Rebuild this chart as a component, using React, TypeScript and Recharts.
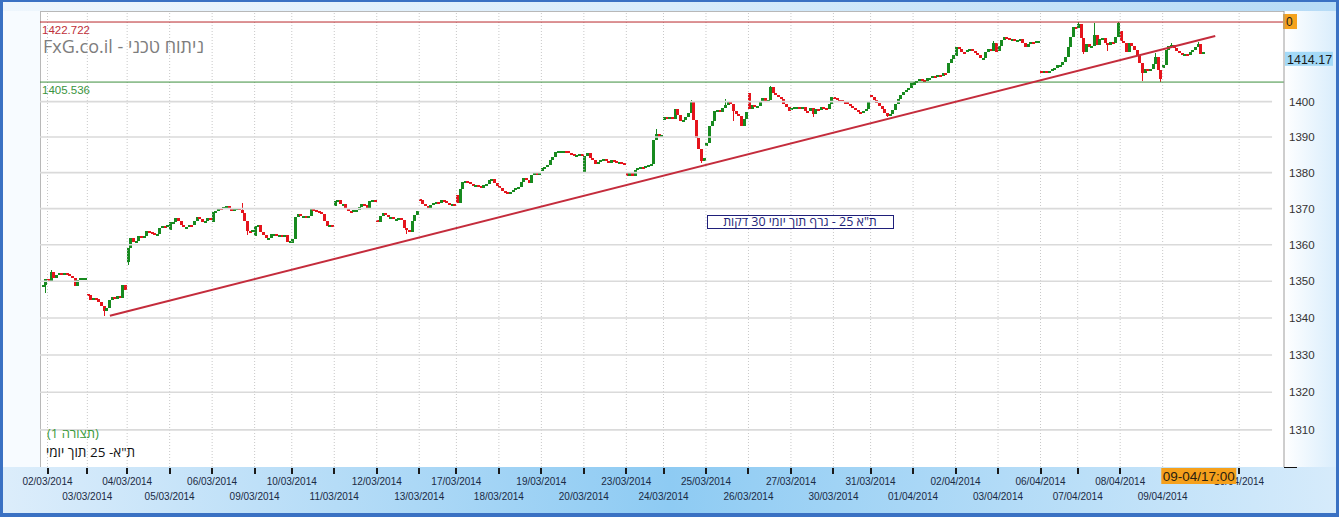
import React from 'react';
import { ComposedChart, Bar, XAxis, YAxis, ReferenceLine } from 'recharts';

// ---------------- DATA ----------------
// Each session: first value = session open, following values = 30-min bar closes
const s2702 = [1348.5, 1349.0, 1350.5];
const s0203 = [1350.5, 1350.2, 1352.5, 1350.8, 1351.8, 1352.2, 1352.0, 1352.3, 1352.0, 1351.5, 1351.0, 1348.7, 1350.3, 1350.8, 1350.8, 1350.9];
const s0303 = [1346.5, 1346.2, 1344.8, 1345.5, 1345.3, 1344.3, 1343.2, 1342.0, 1342.8, 1344.8, 1345.6, 1345.2, 1346.0, 1345.5, 1348.9, 1347.5];
const s0403 = [1355.2, 1359.2, 1361.8, 1360.8, 1361.0, 1362.5, 1362.0, 1362.3, 1363.8, 1363.4, 1363.2, 1363.0, 1363.1, 1364.5, 1365.2, 1365.0, 1365.5];
const s0503 = [1364.0, 1366.2, 1366.4, 1367.3, 1366.5, 1365.4, 1364.9, 1365.0, 1365.6, 1365.5, 1366.6, 1367.7, 1367.2, 1366.2, 1366.6, 1367.4, 1367.0];
const s0603 = [1366.3, 1369.0, 1369.4, 1370.3, 1370.0, 1370.4, 1370.6, 1370.1, 1369.2, 1369.8, 1370.1, 1369.6, 1368.8, 1366.5, 1363.8, 1363.5, 1364.0];
const s0903 = [1362.5, 1365.3, 1365.6, 1363.5, 1362.6, 1361.8, 1362.0, 1362.9, 1362.9, 1362.3, 1362.8, 1362.6, 1362.7, 1360.8, 1361.0];
const s1003 = [1360.5, 1361.5, 1367.8, 1368.4, 1367.9, 1368.0, 1367.7, 1367.9, 1369.8, 1369.6, 1369.2, 1369.1, 1368.4, 1366.6, 1365.2, 1365.5, 1365.2];
const s1103 = [1370.8, 1372.0, 1372.4, 1371.2, 1371.4, 1369.8, 1369.3, 1369.0, 1369.6, 1369.6, 1370.5, 1371.4, 1370.9, 1370.1, 1372.2, 1372.3, 1372.0];
const s1203 = [1366.9, 1366.2, 1368.0, 1368.8, 1368.3, 1367.8, 1367.8, 1367.0, 1367.0, 1367.3, 1366.9, 1364.6, 1364.0, 1363.6, 1366.7, 1368.1, 1369.2];
const s1303 = [1372.6, 1372.5, 1371.2, 1370.6, 1369.8, 1370.9, 1371.5, 1371.8, 1371.5, 1372.3, 1372.2, 1371.6, 1371.2, 1371.4, 1371.3];
const s1703 = [1373.8, 1371.5, 1375.5, 1377.4, 1377.8, 1377.3, 1376.9, 1376.4, 1376.6, 1376.2, 1375.8, 1376.7, 1376.9, 1378.0, 1378.2, 1377.0, 1376.2];
const s1803 = [1376.2, 1375.6, 1374.9, 1374.6, 1374.3, 1374.5, 1375.2, 1375.8, 1376.0, 1377.4, 1378.4, 1378.0, 1377.1, 1379.3, 1379.8, 1379.4, 1380.3];
const s1903 = [1380.5, 1381.3, 1381.7, 1382.2, 1383.6, 1384.5, 1385.8, 1386.0, 1386.1, 1386.2, 1386.0, 1385.6, 1385.2, 1384.8, 1385.0, 1385.3, 1385.2];
const s2003 = [1380.2, 1384.6, 1385.6, 1384.2, 1383.5, 1382.4, 1383.0, 1383.6, 1383.7, 1383.2, 1382.7, 1383.5, 1383.4, 1382.8, 1382.9, 1382.6, 1382.3];
const s2303 = [1380.3, 1379.0, 1379.8, 1379.2, 1380.8, 1381.4, 1381.6, 1381.4, 1382.0, 1382.2, 1382.4, 1389.2, 1390.8, 1390.0, 1390.5];
const s2403 = [1394.8, 1395.5, 1395.0, 1395.5, 1395.0, 1397.8, 1396.2, 1394.6, 1394.8, 1395.5, 1396.9, 1399.8, 1394.8, 1389.7, 1386.5, 1383.3, 1384.0];
const s2503 = [1387.5, 1388.3, 1393.0, 1394.6, 1397.3, 1397.6, 1397.0, 1398.2, 1399.0, 1400.3, 1399.2, 1397.4, 1396.6, 1395.8, 1393.2, 1395.0, 1397.0];
const s2603 = [1402.4, 1397.8, 1398.9, 1398.6, 1398.7, 1400.3, 1400.9, 1400.0, 1400.4, 1404.0, 1402.4, 1402.0, 1401.3, 1400.6, 1399.3, 1398.6, 1397.4];
const s2703 = [1397.6, 1398.3, 1398.6, 1398.6, 1398.0, 1398.4, 1397.4, 1397.3, 1398.2, 1396.5, 1398.0, 1397.6, 1398.4, 1398.3, 1398.0, 1399.3, 1401.2];
const s3003 = [1401.3, 1401.0, 1400.5, 1400.4, 1400.0, 1399.9, 1399.2, 1398.7, 1398.2, 1397.6, 1397.0, 1396.8, 1397.2, 1398.0, 1400.3];
const s3103 = [1402.0, 1401.2, 1400.4, 1399.6, 1398.8, 1398.0, 1396.8, 1396.0, 1396.5, 1397.6, 1399.4, 1400.6, 1401.8, 1402.8, 1403.2, 1403.8, 1405.2];
const s0104 = [1404.6, 1405.7, 1405.8, 1406.3, 1406.1, 1405.9, 1406.7, 1406.8, 1407.3, 1407.2, 1407.5, 1407.2, 1408.2, 1408.0, 1411.0, 1412.0, 1413.2];
const s0204 = [1413.0, 1415.6, 1415.0, 1414.2, 1414.0, 1414.6, 1415.0, 1414.4, 1413.8, 1413.2, 1412.3, 1412.5, 1414.0, 1414.9, 1414.4, 1416.6, 1414.2];
const s0304 = [1414.5, 1415.9, 1417.5, 1418.3, 1418.1, 1417.6, 1417.7, 1417.2, 1417.6, 1417.8, 1416.6, 1415.6, 1416.3, 1416.9, 1416.8, 1417.3, 1417.4];
const s0604 = [1408.8, 1408.1, 1408.8, 1408.1, 1408.7, 1409.4, 1409.5, 1410.4, 1410.5, 1411.3, 1412.6, 1415.5, 1418.3, 1421.2, 1421.0];
const s0704 = [1421.0, 1422.2, 1418.2, 1414.0, 1416.3, 1415.5, 1415.8, 1419.0, 1416.0, 1417.8, 1418.0, 1416.6, 1416.0, 1417.0, 1416.6, 1418.5, 1422.3];
const s0804 = [1420.0, 1417.2, 1416.6, 1414.2, 1416.8, 1415.8, 1414.8, 1413.0, 1411.0, 1408.0, 1409.3, 1409.0, 1409.2, 1410.8, 1412.8, 1409.0, 1406.3];
const s0904 = [1409.5, 1410.5, 1414.6, 1415.8, 1416.0, 1415.2, 1414.4, 1413.8, 1413.4, 1413.5, 1413.2, 1414.2, 1414.8, 1415.6, 1416.4, 1413.6, 1414.17];

const sessions = [s2702, s0203, s0303, s0403, s0503, s0603, s0903, s1003, s1103, s1203, s1303, s1703, s1803, s1903, s2003, s2303, s2403, s2503, s2603, s2703, s3003, s3103, s0104, s0204, s0304, s0604, s0704, s0804, s0904];

// notable wicks: [bar index, value]
const highWicks: [number, number][] = [[3, 1353.1], [75, 1371.5], [231, 1392.2], [244, 1400.4], [257, 1400.8], [274, 1404.5], [358, 1417.2], [390, 1422.7], [396, 1422.4], [405, 1422.8], [419, 1413.8], [425, 1416.6], [435, 1417.0]];
const lowWicks: [number, number][] = [[1, 1346.8], [23, 1340.6], [32, 1354.5], [77, 1362.6], [137, 1363.0], [248, 1382.6], [260, 1394.5], [290, 1395.5], [318, 1395.6], [392, 1413.5], [401, 1414.3], [414, 1405.8], [421, 1405.7]];

const tickLabels = ['02/03/2014', '03/03/2014', '04/03/2014', '05/03/2014', '06/03/2014', '09/03/2014', '10/03/2014', '11/03/2014', '12/03/2014', '13/03/2014', '17/03/2014', '18/03/2014', '19/03/2014', '20/03/2014', '23/03/2014', '24/03/2014', '25/03/2014', '26/03/2014', '27/03/2014', '30/03/2014', '31/03/2014', '01/04/2014', '02/04/2014', '03/04/2014', '06/04/2014', '07/04/2014', '08/04/2014', '09/04/2014', '10/04/2014'];
const futureTickIndex = 450.5;
const yTicks = [1310, 1320, 1330, 1340, 1350, 1360, 1370, 1380, 1390, 1400];
const levelHigh = 1422.722;
const levelLow = 1405.536;
const lastPrice = 1414.17;
const lastTime = '09-04/17:00';
const trendStart = { i: 25.2, v: 1340.6 };
const trendEnd = { i: 441.5, v: 1418.7 };

// ---------------- BUILD ----------------
type C = { i: number; o: number; c: number; h: number; l: number; range: [number, number] };
const data: C[] = [];
const sessionStarts: number[] = [];
{
  let idx = 0;
  const hw = new Map(highWicks);
  const lw = new Map(lowWicks);
  sessions.forEach((s) => {
    sessionStarts.push(idx);
    for (let k = 1; k < s.length; k++) {
      const o = s[k - 1];
      const c = s[k];
      let h = Math.max(o, c);
      let l = Math.min(o, c);
      if (hw.has(idx)) h = Math.max(h, hw.get(idx)!);
      if (lw.has(idx)) l = Math.min(l, lw.get(idx)!);
      data.push({ i: idx, o, c, h, l, range: [l, h] });
      idx++;
    }
  });
}
const xTicks = [...sessionStarts.slice(1).map((s) => s - 0.3), futureTickIndex];
const lastIndex = data.length - 1;

const W = 1339, H = 517;
const PL = 40, PT = 11, PR = 1284, PB = 467;
const X_DOMAIN: [number, number] = [-1.13, 467.4];
const Y_DOMAIN: [number, number] = [1300.2, 1425.9];
const GREEN = '#178a1f';
const RED = '#e5141c';
const FONT = "'Liberation Sans', Arial, sans-serif";
const HFONT = "'Open Sans', 'Liberation Sans', 'DejaVu Sans', sans-serif";

const Candle = (props: any) => {
  const { x, y, width, height, payload } = props;
  if (x == null || y == null || !payload) return null;
  const { o, c, h, l } = payload;
  const top = Math.min(y, y + height);
  const bot = Math.max(y, y + height);
  const lh = Math.log(h), ll = Math.log(l);
  const toY = (v: number) => (lh - ll < 1e-9 ? top : top + (bot - top) * (lh - Math.log(v)) / (lh - ll));
  const color = c >= o ? GREEN : RED;
  let bt = Math.round(toY(Math.max(o, c)));
  let bb = Math.round(toY(Math.min(o, c)));
  if (bb - bt < 2) {
    bb = bt + 2;
  }
  const cx = Math.round(x + width / 2);
  const wt = Math.round(top);
  const wb = Math.max(Math.round(bot), wt + 1);
  return (
    <g shapeRendering="crispEdges">
      <rect x={cx} y={wt} width={1} height={wb - wt} fill={color} />
      <rect x={cx - 1} y={bt} width={3} height={bb - bt} fill={color} />
    </g>
  );
};

const XTick = (props: any) => {
  const { x, payload, index } = props;
  const i = typeof index === 'number' ? index : xTicks.indexOf(payload.value);
  const label = tickLabels[i] ?? '';
  const lower = i % 2 === 1;
  return (
    <g>
      <rect x={Math.round(x) - 1} y={PB + 1} width={2} height={6} fill="#1a1a1a" />
      <text x={x} y={PB + (lower ? 33 : 18)} textAnchor="middle" fontSize={10} fill="#1b2a44" fontFamily={FONT}>
        {label}
      </text>
    </g>
  );
};

const YTick = (props: any) => {
  const { y, payload } = props;
  return (
    <text x={PR + 5} y={y + 4} fontSize={11.5} fill="#333" fontFamily={FONT}>
      {payload.value}
    </text>
  );
};

const LevelLabel = (color: string, text: string, showZero: boolean) => (props: any) => {
  const vb = props.viewBox || {};
  const ly = vb.y ?? 0;
  return (
    <g>
      <text x={PL + 2} y={ly + 12} fontSize={11.5} fill={color} fontFamily={FONT}>
        {text}
      </text>
      {showZero && (
        <g>
          <rect x={PR - 1} y={ly - 8} width={14} height={15} fill="#f5a21d" />
          <text x={PR + 2} y={ly + 4} fontSize={12} fill="#222" fontFamily={FONT}>0</text>
        </g>
      )}
    </g>
  );
};

const LastLabel = (props: any) => {
  const vb = props.viewBox || {};
  const ly = vb.y ?? 0;
  return (
    <g>
      <rect x={PR + 1} y={ly} width={48} height={14} fill="#a3d9f7" />
      <text x={PR + 3} y={ly + 12} fontSize={12.5} fill="#1a1a1a" fontFamily={FONT}>
        {lastPrice.toFixed(2)}
      </text>
    </g>
  );
};

const xPix = (i: number) => PL + ((i - X_DOMAIN[0]) / (X_DOMAIN[1] - X_DOMAIN[0])) * (PR - PL);

export default function App() {
  const lastX = xPix(lastIndex) - 4.5;
  return (
    <div style={{ position: 'absolute', left: 0, top: 0, width: W, height: H, overflow: 'hidden' }}>
      <svg width={W} height={H} style={{ position: 'absolute', left: 0, top: 0 }}>
        <defs>
          <linearGradient id="topg" x1="0" x2="1" y1="0" y2="0">
            <stop offset="0" stopColor="#eef6fd" />
            <stop offset="0.5" stopColor="#d8ecfb" />
            <stop offset="1" stopColor="#b6dbf6" />
          </linearGradient>
          <linearGradient id="botg" x1="0" x2="1" y1="0" y2="0">
            <stop offset="0" stopColor="#dcedfb" />
            <stop offset="0.5" stopColor="#8ecbf3" />
            <stop offset="1" stopColor="#d6ebfb" />
          </linearGradient>
          <linearGradient id="rightg" x1="0" x2="1" y1="0" y2="0">
            <stop offset="0" stopColor="#ffffff" />
            <stop offset="1" stopColor="#d9edfc" />
          </linearGradient>
        </defs>
        <rect x={0} y={0} width={W} height={H} fill="#3a71c3" />
        <rect x={3} y={2} width={W - 6} height={H - 6} fill="#f7fbff" />
        <rect x={3} y={2} width={W - 6} height={PT - 2} fill="url(#topg)" />
        <rect x={PR} y={PT} width={W - 3 - PR} height={PB - PT} fill="url(#rightg)" />
        <rect x={3} y={PB} width={W - 6} height={H - 4 - PB} fill="url(#botg)" />
        <rect x={PL} y={PT} width={PR - PL} height={PB - PT} fill="#ffffff" />
        <line x1={PL} x2={PR} y1={PT + 0.5} y2={PT + 0.5} stroke="#b8b8b8" />
        <line x1={PL + 0.5} x2={PL + 0.5} y1={PT} y2={PB} stroke="#b8b8b8" />
        <line x1={PR} x2={PR + 13} y1={PB + 0.5} y2={PB + 0.5} stroke="#111" />
      </svg>
      <div style={{ position: 'absolute', left: 0, top: 0 }}>
        <ComposedChart width={W} height={H} data={data} margin={{ top: PT, right: 0, bottom: 0, left: PL }}>
          <XAxis
            dataKey="i"
            type="number"
            domain={X_DOMAIN}
            allowDataOverflow
            ticks={xTicks}
            interval={0}
            height={50}
            tickSize={0}
            tickMargin={0}
            axisLine={false}
            tickLine={false}
            tick={<XTick />}
          />
          <YAxis
            orientation="right"
            type="number"
            scale="log"
            domain={Y_DOMAIN}
            allowDataOverflow
            ticks={yTicks}
            interval={0}
            width={55}
            axisLine={{ stroke: '#9c9c9c' }}
            tickLine={false}
            tick={<YTick />}
          />
          {xTicks.map((t) => (
            <ReferenceLine key={'vx' + t} x={t} stroke="#c8c8c8" strokeDasharray="1 2" ifOverflow="visible" />
          ))}
          {yTicks.map((t) => (
            <ReferenceLine
              key={'hy' + t}
              segment={[{ x: X_DOMAIN[0], y: t }, { x: 462.9, y: t }]}
              stroke="#dadada"
              strokeWidth={1.6}
            />
          ))}
          <Bar dataKey="range" barSize={2} shape={<Candle />} isAnimationActive={false} />
          <ReferenceLine y={levelHigh} stroke="#b8272b" strokeWidth={1} label={LevelLabel('#c0303a', levelHigh.toFixed(3), true)} />
          <ReferenceLine y={levelLow} stroke="#3d8f3d" strokeWidth={1} label={LevelLabel('#3a9440', levelLow.toFixed(3), false)} />
          <ReferenceLine
            segment={[{ x: trendStart.i, y: trendStart.v }, { x: trendEnd.i, y: trendEnd.v }]}
            stroke="#c42c3c"
            strokeWidth={2}
            ifOverflow="visible"
          />
          <ReferenceLine y={lastPrice} stroke="none" label={<LastLabel />} />
        </ComposedChart>
      </div>
      <svg width={W} height={H} style={{ position: 'absolute', left: 0, top: 0, pointerEvents: 'none' }}>
        <text x={43} y={53} fontSize={18} fill="#7d7d7d" fontFamily={HFONT} direction="rtl" textAnchor="end">
          ניתוח טכני - FxG.co.il
        </text>
        <text x={47} y={438} fontSize={13} fill="#3a9a3a" fontFamily={HFONT} direction="rtl" textAnchor="end">
          (תצורה 1)
        </text>
        <text x={46} y={457} fontSize={13.5} fill="#111" fontFamily={HFONT} direction="rtl" textAnchor="end">
          ת"א- 25 תוך יומי
        </text>
        <rect x={707.5} y={215.5} width={186} height={13} fill="#ffffff" stroke="#1f1f7a" strokeWidth={1} />
        <text x={800} y={226} fontSize={12.5} fill="#1f1f7a" fontFamily={HFONT} direction="rtl" textAnchor="middle">
          ת"א 25 - גרף תוך יומי 30 דקות
        </text>
        <rect x={lastX - 37.5} y={PB + 1} width={75} height={16} fill="#f5a01c" />
        <text x={lastX} y={PB + 14} fontSize={13.5} fill="#2a2010" fontFamily={FONT} textAnchor="middle">
          {lastTime}
        </text>
      </svg>
    </div>
  );
}
